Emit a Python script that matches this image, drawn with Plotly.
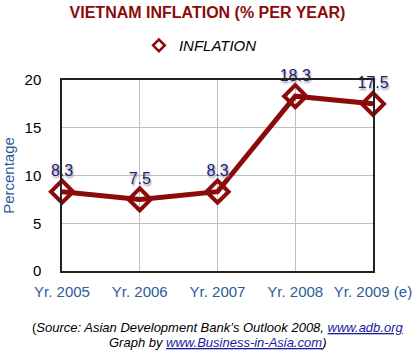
import plotly.graph_objects as go

years = ["Yr. 2005", "Yr. 2006", "Yr. 2007", "Yr. 2008", "Yr. 2009 (e)"]
inflation = [8.3, 7.5, 8.3, 18.3, 17.5]
y_ticks = [0, 5, 10, 15, 20]

RED = "#8c0a0a"
BLUE = "#2a5d9a"
FONT = "Liberation Sans, Arial, Helvetica, sans-serif"

fig = go.Figure()
fig.add_trace(go.Scatter(
    x=years, y=inflation, name="INFLATION", showlegend=False,
    mode="lines+markers+text",
    text=[f"{v:.1f}" for v in inflation],
    textposition="top center",
    textfont=dict(family=FONT, size=16, color="#1c1c7a", shadow="1px 2px 2px #9a9a9a"),
    line=dict(color=RED, width=5),
    marker=dict(symbol="diamond-open", size=17, color=RED, line=dict(width=4, color=RED)),
    cliponaxis=False,
))
# legend-only entry (marker without line, as in the reference)
fig.add_trace(go.Scatter(
    x=[None], y=[None], name="INFLATION", mode="markers",
    marker=dict(symbol="diamond-open", size=9, color=RED, line=dict(width=2.5, color=RED)),
))

fig.update_layout(
    width=415, height=360,
    margin=dict(l=62, r=42, t=80, b=89, autoexpand=False),
    paper_bgcolor="white", plot_bgcolor="white",
    font=dict(family=FONT),
    title=dict(text="<b>VIETNAM INFLATION (% PER YEAR)</b>", x=0.5, xanchor="center",
               y=0.965, yanchor="middle",
               font=dict(family=FONT, size=16, color=RED)),
    showlegend=True,
    legend=dict(orientation="h", x=0.445, xanchor="center", y=1.18, yanchor="middle",
                font=dict(family=FONT, size=15, color="black", style="italic"),
                itemwidth=30),
    xaxis=dict(type="category", range=[0, 4], showgrid=True, gridcolor="#c0c0c0",
               gridwidth=1, showline=True, linecolor="#222", linewidth=1.5, mirror=True,
               ticks="", ticklabelstandoff=6, automargin=False,
               tickfont=dict(family=FONT, size=15, color=BLUE)),
    yaxis=dict(range=[0, 20], tickvals=y_ticks, showgrid=True, gridcolor="#c0c0c0",
               gridwidth=1, showline=True, linecolor="#222", linewidth=1.5, mirror=True,
               ticks="", ticklabelstandoff=16, zeroline=False, automargin=False,
               tickfont=dict(family=FONT, size=15, color="black"),
               title=dict(text="Percentage", standoff=10,
                          font=dict(family=FONT, size=15, color=BLUE))),
    annotations=[
        dict(text="(<i>Source: Asian Development Bank’s Outlook 2008, </i><span style='color:#1a1aa0'><u><i>www.adb.org</i></u></span>",
             x=0.5, xref="paper", xanchor="center", y=327, yref="paper", showarrow=False,
             font=dict(family=FONT, size=13, color="black")),
        dict(text="<i>Graph by </i><span style='color:#1a1aa0'><u><i>www.Business-in-Asia.com</i></u></span><i>)</i>",
             x=0.5, xref="paper", xanchor="center", y=342, yref="paper", showarrow=False,
             font=dict(family=FONT, size=13, color="black")),
    ],
)

# convert pixel y positions of annotations to paper coords
plot_h = 360 - 80 - 89
for a in fig.layout.annotations:
    py = a.y
    a.y = (360 - 89 - py) / plot_h
    a.yanchor = "middle"

fig.write_html("out.html", config={"displayModeBar": False},
               post_script="document.body.style.margin='0';")
